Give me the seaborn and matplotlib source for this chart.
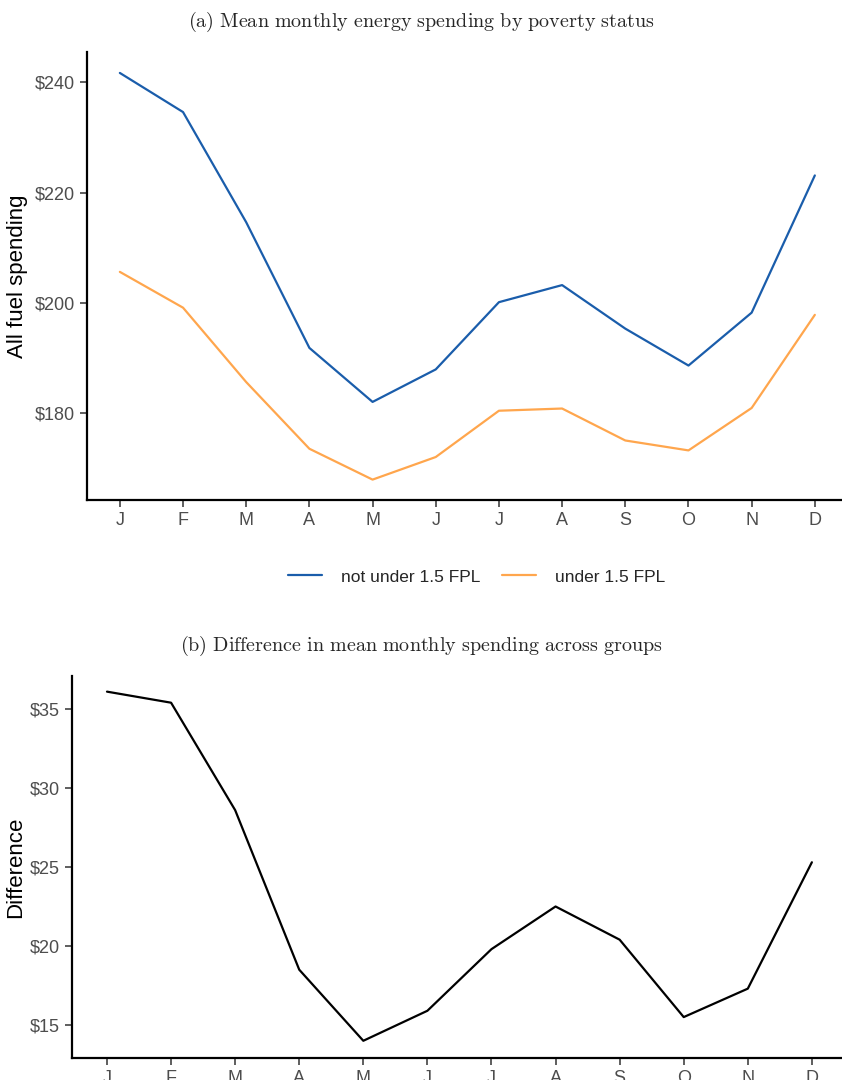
import numpy as np
import pandas as pd
import seaborn as sns
import matplotlib.pyplot as plt

# DADOS
meses = ["J", "F", "M", "A", "M", "J", "J", "A", "S", "O", "N", "D"]
nao_pobre = [241.7, 234.6, 214.6, 191.8, 182.0, 187.9, 200.1, 203.2, 195.3, 188.6, 198.2, 223.1]
pobre = [205.6, 199.1, 185.6, 173.5, 167.9, 172.0, 180.4, 180.8, 175.0, 173.2, 180.9, 197.8]
diferenca = [36.1, 35.4, 28.6, 18.5, 14.0, 15.9, 19.8, 22.5, 20.4, 15.5, 17.3, 25.3]
grupos = ["not under 1.5 FPL", "under 1.5 FPL"]
cores = ["#1A5DAB", "#FFA64D"]

sns.set_theme(style="ticks")
plt.rcParams["font.family"] = ["Liberation Sans", "DejaVu Sans"]
plt.rcParams["mathtext.fontset"] = "cm"

idx = np.arange(len(meses))
df = pd.DataFrame({
    "mes": np.concatenate([idx, idx]),
    "gasto": nao_pobre + pobre,
    "grupo": [grupos[0]] * 12 + [grupos[1]] * 12,
})
df_dif = pd.DataFrame({"mes": idx, "dif": diferenca})

fig = plt.figure(figsize=(8.42, 10.8), dpi=100)
ax1 = fig.add_axes([87 / 842, 1 - 500 / 1080, 1 - 87 / 842, 448 / 1080])
ax2 = fig.add_axes([72 / 842, 1 - 1058 / 1080, 1 - 72 / 842, 382 / 1080])

# painel (a)
sns.lineplot(data=df, x="mes", y="gasto", hue="grupo", palette=cores,
             linewidth=1.6, ax=ax1, legend=True)
ax1.set_xlim(-0.52, 11.43)
ax1.set_ylim(164.2, 245.5)
ax1.set_yticks([180, 200, 220, 240])
ax1.set_yticklabels(["$180", "$200", "$220", "$240"])
ax1.set_ylabel("All fuel spending", fontsize=16, color="black", labelpad=5)

leg = ax1.get_legend()
handles = leg.legend_handles
leg.remove()
fig.legend(handles, grupos, loc="center", bbox_to_anchor=(0.566, 1 - 577 / 1080),
           ncol=2, frameon=False, fontsize=12.5, handlelength=2.0,
           columnspacing=1.2, handletextpad=1.1)

# painel (b)
sns.lineplot(data=df_dif, x="mes", y="dif", color="black", linewidth=1.6, ax=ax2)
ax2.set_xlim(-0.546, 11.47)
ax2.set_ylim(12.91, 37.09)
ax2.set_yticks([15, 20, 25, 30, 35])
ax2.set_yticklabels(["$15", "$20", "$25", "$30", "$35"])
ax2.set_ylabel("Difference", fontsize=16, color="black", labelpad=3)

for ax in [ax1, ax2]:
    ax.set_xticks(idx)
    ax.set_xticklabels(meses)
    ax.set_xlabel("")
    ax.tick_params(axis="both", labelsize=13, labelcolor="#4D4D4D",
                   color="#333333", length=5, width=1.1)
    for lado in ["left", "bottom"]:
        ax.spines[lado].set_linewidth(1.6)
        ax.spines[lado].set_color("black")
    sns.despine(ax=ax)

fig.text(0.5, 1 - 22 / 1080,
         r"$\mathrm{(a)\ Mean\ monthly\ energy\ spending\ by\ poverty\ status}$",
         ha="center", va="center", fontsize=14.5)
fig.text(0.5, 1 - 646 / 1080,
         r"$\mathrm{(b)\ Difference\ in\ mean\ monthly\ spending\ across\ groups}$",
         ha="center", va="center", fontsize=14.5)

fig.savefig("out.png", dpi=100)
